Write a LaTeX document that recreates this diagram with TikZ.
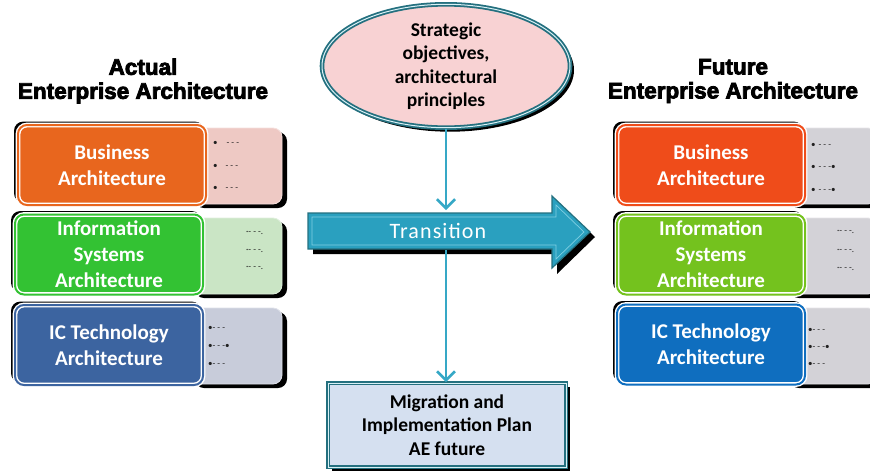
\documentclass[tikz,border=0pt]{standalone}
\usepackage{fontspec}
\setmainfont{Carlito}
\newfontfamily\titlefont{Liberation Sans}[BoldFeatures={FakeBold=3.5}]
\usetikzlibrary{shapes.geometric,arrows.meta,shadows}
\definecolor{bizL}{HTML}{E8661E}
\definecolor{bizR}{HTML}{EF4C1A}
\definecolor{infL}{HTML}{33C233}
\definecolor{infR}{HTML}{74C21E}
\definecolor{icL}{HTML}{3C64A0}
\definecolor{icR}{HTML}{0F6EBF}
\definecolor{sbiz}{HTML}{EEC9C4}
\definecolor{sinf}{HTML}{CAE5C5}
\definecolor{sic}{HTML}{C8CCDA}
\definecolor{sgray}{HTML}{D3D2D7}
\definecolor{tealdark}{HTML}{24707F}
\definecolor{tealfill}{HTML}{2AA0BF}
\definecolor{teallight}{HTML}{7FCFE2}
\definecolor{vline}{HTML}{36A8C6}
\definecolor{ellfill}{HTML}{F8D2D3}
\definecolor{migfill}{HTML}{D5E0F0}
\definecolor{dotcol}{HTML}{202020}
\tikzset{
  mainbox/.style={rounded corners=9pt, fill=#1, draw=white, line width=1.4pt,
    double=#1, double distance=2pt, minimum width=188pt, minimum height=80pt,
    text=white, align=center, inner sep=0pt, font=\bfseries\fontsize{21}{26}\selectfont,
    general shadow={fill=black, shadow xshift=-3pt, shadow yshift=3pt, shadow scale=1.01}},
  sidebox/.style={rounded corners=9pt, fill=#1, draw=white!40!#1, line width=0.8pt,
    minimum width=92pt, minimum height=76pt,
    general shadow={fill=black, shadow xshift=5pt, shadow yshift=-4pt}},
  ttl/.style={align=center, font=\titlefont\bfseries\fontsize{22.5}{24}\selectfont},
  dots/.style={anchor=west, inner sep=0pt, text=dotcol, font=\fontsize{9}{9}\selectfont},
  vline/.style={draw=vline, line width=2.6pt, -{Straight Barb[length=9pt,width=18pt,line width=2.6pt]}},
}
\begin{document}
\begin{tikzpicture}[x=1pt,y=-1pt]
\useasboundingbox (0,0) rectangle (870,472);

% titles
\node[ttl] (tl) at (143,81) {Actual\\Enterprise Architecture};
\node[ttl] (tr) at (733,81) {Future\\Enterprise Architecture};

% left side boxes
\node[sidebox=sbiz] (lsb) at (236,166) {};
\node[sidebox=sinf] (lsi) at (236,256) {};
\node[sidebox=sic]  (lsc) at (236,346) {};
% right side boxes
\node[sidebox=sgray] (rsb) at (831,166) {};
\node[sidebox=sgray] (rsi) at (831,256) {};
\node[sidebox=sgray] (rsc) at (831,346) {};

% main boxes
\node[mainbox=bizL] (lb) at (112,165) {Business\\Architecture};
\node[mainbox=infL] (li) at (109,254.5) {Information\\Systems\\Architecture};
\node[mainbox=icL]  (lc) at (109,345) {IC Technology\\Architecture};
\node[mainbox=bizR] (rb) at (711,165) {Business\\Architecture};
\node[mainbox=infR] (ri) at (711,254.5) {Information\\Systems\\Architecture};
\node[mainbox=icR]  (rc) at (711,344.5) {IC Technology\\Architecture};

% bullets in side boxes
\node[dots] (d1) at (213,143) {•\hspace{9pt}- - -};
\node[dots] (d2) at (213,166) {•\hspace{8pt}- - -};
\node[dots] (d3) at (213,188) {•\hspace{8pt}- - -};
\node[dots] (d4) at (246,233) {·- - -.};
\node[dots] (d5) at (246,251) {·- - -.};
\node[dots] (d6) at (246,268) {·- - -.};
\node[dots] (d7) at (208,328) {•- - -};
\node[dots] (d8) at (208,346) {•- - -•};
\node[dots] (d9) at (208,364) {•- - -};
\node[dots] (e1) at (811,145) {•\hspace{3pt}- - -};
\node[dots] (e2) at (811,167) {•\hspace{3pt}- - -•};
\node[dots] (e3) at (811,190) {•\hspace{3pt}- - -•};
\node[dots] (e4) at (837,232) {·- - -.};
\node[dots] (e5) at (837,251) {·- - -.};
\node[dots] (e6) at (837,269) {·- - -.};
\node[dots] (e7) at (808,330) {•- - -};
\node[dots] (e8) at (808,347) {•- - -•};
\node[dots] (e9) at (808,364) {•- - -};

% ellipse
\node[ellipse, fill=ellfill, draw=tealdark, line width=1.8pt, double=white!70!teallight,
  double distance=1pt, minimum width=248pt, minimum height=110pt, align=center,
  font=\bfseries\fontsize{19.5}{23.5}\selectfont, inner sep=0pt,
  general shadow={fill=black, shadow xshift=4pt, shadow yshift=-4pt}]
  (ell) at (446,66) {Strategic\\objectives,\\architectural\\principles};

% migration box
\node[rectangle, fill=migfill, draw=tealdark, line width=1.8pt, double=white!70!teallight,
  double distance=1pt, minimum width=238pt, minimum height=84pt, align=center, inner sep=0pt,
  font=\bfseries\fontsize{19.5}{23.5}\selectfont,
  general shadow={fill=black, shadow xshift=4pt, shadow yshift=-4pt}]
  (mig) at (447,425) {Migration and\\Implementation Plan\\AE future};

% transition arrow
\fill[black] (313,218) -- (557,218) -- (557,201) -- (595,237) -- (557,274) -- (557,254) -- (313,254) -- cycle;
\filldraw[fill=tealfill, draw=tealdark, line width=1.2pt]
  (308,213) -- (552,213) -- (552,196) -- (590,232) -- (552,268) -- (552,249) -- (308,249) -- cycle;
\draw[teallight, line width=0.7pt]
  (312,217) -- (556,217) -- (556,205) -- (584,232) -- (556,259) -- (556,245) -- (312,245) -- cycle;
\node[minimum width=244pt, minimum height=36pt, inner sep=0pt, text=white,
  font=\fontsize{22}{22}\selectfont\addfontfeature{LetterSpace=5}]
  (trans) at (430,231) {\hspace{16pt}Transition};

% connectors
\coordinate (t1) at (446,210);
\coordinate (t2) at (446,250);
\draw[vline] (ell.south -| t1) -- (t1);
\draw[vline] (t2) -- (t2 |- mig.north);
\end{tikzpicture}
\end{document}
